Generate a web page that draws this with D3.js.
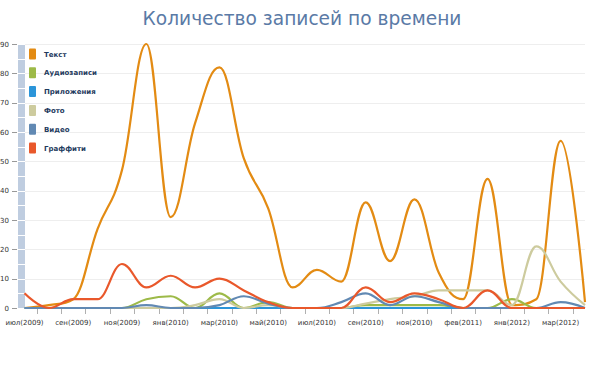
<!DOCTYPE html>
<html>
<head>
<meta charset="utf-8">
<script src="https://cdn.jsdelivr.net/npm/d3@7"></script>
<style>
    body { margin: 0; background: #fff; }
    svg { display: block; }
</style>
</head>
<body>
<div id="chart"></div>
<script>
// категории (месяцы)
let categories = ['июл(2009)', 'авг(2009)', 'сен(2009)', 'окт(2009)', 'ноя(2009)', 'дек(2009)',
    'янв(2010)', 'фев(2010)', 'мар(2010)', 'апр(2010)', 'май(2010)', 'июн(2010)',
    'июл(2010)', 'авг(2010)', 'сен(2010)', 'окт(2010)', 'ноя(2010)', 'дек(2010)',
    'фев(2011)', 'дек(2011)', 'янв(2012)', 'фев(2012)', 'мар(2012)', 'апр(2012)'];
let seriesNames = ['Текст', 'Аудиозаписи', 'Приложения', 'Фото', 'Видео', 'Граффити'];
let textValues = [0, 1, 3, 27, 47, 90, 31, 63, 82, 51, 34, 7, 13, 9, 36, 16, 37, 12, 3, 44, 1, 3, 57, 2];
let audioValues = [0, 0, 0, 0, 0, 3, 4, 0, 5, 0, 2, 0, 0, 0, 1, 1, 1, 1, 0, 0, 3, 0, 0, 0];
let appValues = [0, 0, 0, 0, 0, 0, 0, 0, 0, 0, 0, 0, 0, 0, 0, 0, 0, 0, 0, 0, 0, 0, 0, 0];
let photoValues = [0, 0, 0, 0, 0, 0, 0, 1, 3, 0, 1, 0, 0, 0, 1.5, 3, 4, 6, 6, 6, 1, 21, 9, 1];
let videoValues = [0, 0, 0, 0, 0, 1, 0, 0, 1, 4, 1.5, 0, 0, 2, 5, 1, 4, 2, 0, 0, 0, 0, 2, 0];
let graffitiValues = [5, 0, 3, 3, 15, 7, 11, 7, 10, 6, 2, 0, 0, 0, 7, 2, 5, 3, 0, 6, 0, 0, 0, 0];
let yTicks = [0, 10, 20, 30, 40, 50, 60, 70, 80, 90];

let colors = ['#e38b13', '#9dba48', '#2b95d9', '#cdcb9e', '#6189b3', '#e9582b'];
let allValues = [textValues, audioValues, appValues, photoValues, videoValues, graffitiValues];

let width = 604, height = 377;
let plotLeft = 24.5, plotRight = 585, plotTop = 44, plotBottom = 308;

//сплайн как в highcharts (smoothing 1.5, без выбросов за соседние точки)
function SplineCurve(context) {
    this._context = context;
}
SplineCurve.prototype = {
    areaStart: function () {},
    areaEnd: function () {},
    lineStart: function () {
        this._px = [];
        this._py = [];
    },
    point: function (px, py) {
        this._px.push(+px);
        this._py.push(+py);
    },
    lineEnd: function () {
        let px = this._px, py = this._py, n = px.length, ctx = this._context;
        let smoothing = 1.5, denom = smoothing + 1;
        let lc = [], rc = [];
        for (let i = 0; i < n; i++) {
            lc[i] = [px[i], py[i]];
            rc[i] = [px[i], py[i]];
            if (i === 0 || i === n - 1) continue;
            let lastX = px[i - 1], lastY = py[i - 1], nextX = px[i + 1], nextY = py[i + 1];
            let plotX = px[i], plotY = py[i];
            let leftContX = (smoothing * plotX + lastX) / denom;
            let leftContY = (smoothing * plotY + lastY) / denom;
            let rightContX = (smoothing * plotX + nextX) / denom;
            let rightContY = (smoothing * plotY + nextY) / denom;
            let correction = ((rightContY - leftContY) * (rightContX - plotX)) /
                (rightContX - leftContX) + plotY - rightContY;
            leftContY += correction;
            rightContY += correction;
            if (leftContY > lastY && leftContY > plotY) {
                leftContY = Math.max(lastY, plotY);
                rightContY = 2 * plotY - leftContY;
            } else if (leftContY < lastY && leftContY < plotY) {
                leftContY = Math.min(lastY, plotY);
                rightContY = 2 * plotY - leftContY;
            }
            if (rightContY > nextY && rightContY > plotY) {
                rightContY = Math.max(nextY, plotY);
                leftContY = 2 * plotY - rightContY;
            } else if (rightContY < nextY && rightContY < plotY) {
                rightContY = Math.min(nextY, plotY);
                leftContY = 2 * plotY - rightContY;
            }
            lc[i] = [leftContX, leftContY];
            rc[i] = [rightContX, rightContY];
        }
        for (let i = 0; i < n; i++) {
            if (i === 0) ctx.moveTo(px[0], py[0]);
            else ctx.bezierCurveTo(rc[i - 1][0], rc[i - 1][1], lc[i][0], lc[i][1], px[i], py[i]);
        }
    }
};
let curveSpline = function (context) {
    return new SplineCurve(context);
};

let svg = d3.select('#chart').append('svg')
    .attr('width', width)
    .attr('height', height);

//заголовок
svg.append('text')
    .attr('x', 302)
    .attr('y', 25)
    .attr('text-anchor', 'middle')
    .style('font-family', 'DejaVu Sans')
    .style('font-size', '18.6px')
    .style('fill', '#5a7aa6')
    .text('Количество записей по времени');

let x = d3.scalePoint().domain(d3.range(categories.length)).range([plotLeft, plotRight]);
let y = d3.scaleLinear().domain([0, 90]).range([plotBottom, plotTop]);
let step = x.step();

//сетка
svg.append('g').selectAll('line')
    .data(yTicks.slice(1))
    .enter().append('line')
    .attr('x1', plotLeft).attr('x2', plotRight)
    .attr('y1', d => Math.round(y(d)) + 0.5)
    .attr('y2', d => Math.round(y(d)) + 0.5)
    .style('stroke', '#eeeeee');

//левая полоса
svg.append('rect')
    .attr('x', 18).attr('y', plotTop)
    .attr('width', 7).attr('height', plotBottom - plotTop)
    .style('fill', '#bfcde0');
svg.append('g').selectAll('line')
    .data(d3.range(0, 95, 5))
    .enter().append('line')
    .attr('x1', 18).attr('x2', 25)
    .attr('y1', d => Math.round(y(d)) + 0.5)
    .attr('y2', d => Math.round(y(d)) + 0.5)
    .style('stroke', '#fff');

//ось Y
let yAxis = svg.append('g');
yAxis.selectAll('line')
    .data(yTicks)
    .enter().append('line')
    .attr('x1', 12).attr('x2', 17)
    .attr('y1', d => Math.round(y(d)) + 0.5)
    .attr('y2', d => Math.round(y(d)) + 0.5)
    .style('stroke', '#999');
yAxis.selectAll('text')
    .data(yTicks)
    .enter().append('text')
    .attr('x', 9)
    .attr('y', d => y(d) + 2.5)
    .attr('text-anchor', 'end')
    .style('font-family', 'DejaVu Sans')
    .style('font-size', '7px')
    .style('fill', '#333')
    .text(d => d);

//ось X
let xAxis = svg.append('g');
xAxis.append('line')
    .attr('x1', plotLeft).attr('x2', plotRight)
    .attr('y1', plotBottom + 0.5).attr('y2', plotBottom + 0.5)
    .style('stroke', '#c0c0c0');
xAxis.selectAll('line.tick')
    .data(d3.range(categories.length - 1))
    .enter().append('line')
    .attr('class', 'tick')
    .attr('x1', d => Math.round(x(d) + step / 2) + 0.5)
    .attr('x2', d => Math.round(x(d) + step / 2) + 0.5)
    .attr('y1', plotBottom + 1).attr('y2', plotBottom + 6)
    .style('stroke', '#b0b0b0');
xAxis.selectAll('text')
    .data(d3.range(0, categories.length, 2))
    .enter().append('text')
    .attr('x', d => x(d))
    .attr('y', 325)
    .attr('text-anchor', 'middle')
    .style('font-family', 'DejaVu Sans')
    .style('font-size', '7px')
    .style('fill', '#333')
    .text(d => categories[d]);

//линии
let line = d3.line()
    .x((d, i) => x(i))
    .y(d => y(d))
    .curve(curveSpline);

svg.append('g').selectAll('path')
    .data(allValues)
    .enter().append('path')
    .attr('d', d => line(d))
    .style('fill', 'none')
    .style('stroke', (d, i) => colors[i])
    .style('stroke-width', 2.2)
    .style('stroke-linejoin', 'round');

//легенда
let legend = svg.append('g').selectAll('g')
    .data(seriesNames)
    .enter().append('g')
    .attr('transform', (d, i) => 'translate(29,' + (54 + i * 18.8) + ')');
legend.append('rect')
    .attr('x', 0).attr('y', -5.5)
    .attr('width', 7).attr('height', 11)
    .attr('rx', 1)
    .style('fill', (d, i) => colors[i]);
legend.append('text')
    .attr('x', 15)
    .attr('y', 2.5)
    .style('font-family', 'DejaVu Sans')
    .style('font-size', '7px')
    .style('font-weight', 'bold')
    .style('fill', '#1f3b5e')
    .text(d => d);
</script>
</body>
</html>
